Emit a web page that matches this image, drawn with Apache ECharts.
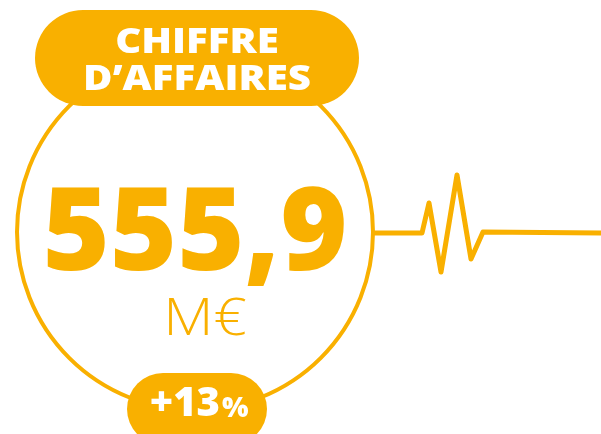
<!DOCTYPE html>
<html>
<head>
<meta charset="utf-8">
<script src="https://cdn.jsdelivr.net/npm/echarts@6/dist/echarts.min.js"></script>
<style>
  html, body { margin: 0; padding: 0; background: #fff; }
  #chart { width: 601px; height: 434px; }
</style>
</head>
<body>
<div id="chart"></div>
<script>
const titleLines = ['CHIFFRE', 'D\u2019AFFAIRES']
const valueText = '555,9'
const unitText = 'M\u20AC'
const changeText = ['+13', '%']

// heartbeat trace: time steps and amplitude
const ecgTime = [0, 47, 54, 66, 82, 96, 108, 226]
const ecgAmp = [0, 0, 30, -39, 58, -26, 1, 0]

const orange = '#F9B000'
const font = '"Open Sans", "DejaVu Sans", sans-serif'

const chart = echarts.init(document.getElementById('chart'), null, { renderer: 'canvas' })

chart.setOption({
  animation: false,
  grid: { left: 375, right: 0, top: 160, bottom: 144 },
  xAxis: { type: 'value', min: 0, max: 226, show: false },
  yAxis: { type: 'value', min: -57, max: 73, show: false },
  series: [{
    type: 'line',
    data: ecgTime.map((t, i) => [t, ecgAmp[i]]),
    symbol: 'none',
    lineStyle: { color: orange, width: 5, cap: 'round', join: 'round' },
    z: 1,
  }],
  graphic: [
    {
      type: 'circle', z: 0,
      shape: { cx: 195, cy: 232, r: 178 },
      style: { fill: 'none', stroke: orange, lineWidth: 4 },
    },
    {
      type: 'rect', z: 5,
      shape: { x: 35, y: 10, width: 324, height: 96, r: 48 },
      style: { fill: orange },
    },
    {
      type: 'rect', z: 5,
      shape: { x: 127, y: 373, width: 140, height: 72, r: 36 },
      style: { fill: orange },
    },
    {
      type: 'text', z: 6, x: 197, y: 43, scaleX: 1.15,
      style: { text: titleLines[0], fill: '#fff', font: `800 35px ${font}`, align: 'center', verticalAlign: 'middle' },
    },
    {
      type: 'text', z: 6, x: 197, y: 80, scaleX: 1.15,
      style: { text: titleLines[1], fill: '#fff', font: `800 35px ${font}`, align: 'center', verticalAlign: 'middle' },
    },
    {
      type: 'text', z: 6, x: 195, y: 237,
      style: { text: valueText, fill: orange, font: `800 115px ${font}`, align: 'center', verticalAlign: 'middle' },
    },
    {
      type: 'text', z: 6, x: 205, y: 320, scaleX: 1.12,
      style: { text: unitText, fill: orange, font: `200 52px ${font}`, align: 'center', verticalAlign: 'middle' },
    },
    {
      type: 'text', z: 6, x: 220, y: 405,
      style: { text: changeText[0], fill: '#fff', font: `800 40px ${font}`, align: 'right', verticalAlign: 'middle' },
    },
    {
      type: 'text', z: 6, x: 222, y: 409,
      style: { text: changeText[1], fill: '#fff', font: `800 28px ${font}`, align: 'left', verticalAlign: 'middle' },
    },
  ],
})

window.addEventListener('resize', () => chart.resize())
</script>
</body>
</html>
